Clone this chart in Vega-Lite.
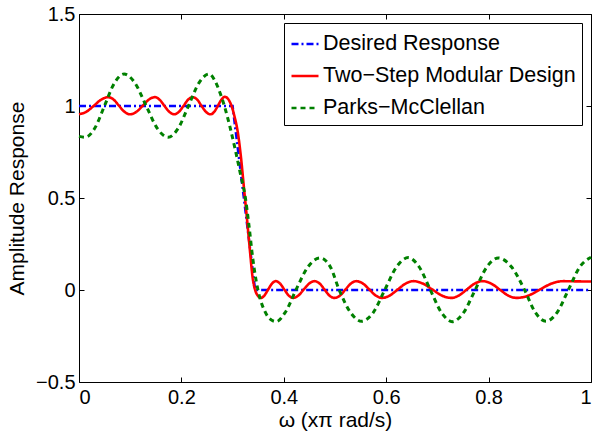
{
  "$schema": "https://vega.github.io/schema/vega-lite/v6.json",
  "width": 512,
  "height": 368,
  "autosize": {"type": "none"},
  "padding": {"left": 79, "top": 14, "right": 2, "bottom": 51},
  "background": "white",
  "config": {
    "view": {"stroke": null},
    "font": "Liberation Sans",
    "axis": {
      "grid": false,
      "domainColor": "black",
      "domainWidth": 1,
      "tickColor": "black",
      "tickSize": -5,
      "tickWidth": 1,
      "labelColor": "black",
      "labelFont": "Liberation Sans",
      "labelFontSize": 20,
      "titleColor": "black",
      "titleFont": "Liberation Sans",
      "titleFontSize": 21,
      "titleFontWeight": "normal"
    }
  },
  "data": {
    "values": [
      {"s": "Desired Response", "x": 0, "y": 1},
      {"s": "Desired Response", "x": 0.3, "y": 1},
      {"s": "Desired Response", "x": 0.344, "y": 0},
      {"s": "Desired Response", "x": 1, "y": 0},

      {"s": "Two−Step Modular Design", "x": 0, "y": 0.955},
      {"s": "Two−Step Modular Design", "x": 0.014, "y": 0.968},
      {"s": "Two−Step Modular Design", "x": 0.0285, "y": 1.0},
      {"s": "Two−Step Modular Design", "x": 0.043, "y": 1.034},
      {"s": "Two−Step Modular Design", "x": 0.057, "y": 1.048},
      {"s": "Two−Step Modular Design", "x": 0.068, "y": 1.034},
      {"s": "Two−Step Modular Design", "x": 0.0785, "y": 1.0},
      {"s": "Two−Step Modular Design", "x": 0.089, "y": 0.968},
      {"s": "Two−Step Modular Design", "x": 0.1, "y": 0.955},
      {"s": "Two−Step Modular Design", "x": 0.112, "y": 0.968},
      {"s": "Two−Step Modular Design", "x": 0.124, "y": 1.0},
      {"s": "Two−Step Modular Design", "x": 0.136, "y": 1.034},
      {"s": "Two−Step Modular Design", "x": 0.148, "y": 1.048},
      {"s": "Two−Step Modular Design", "x": 0.1575, "y": 1.034},
      {"s": "Two−Step Modular Design", "x": 0.167, "y": 1.0},
      {"s": "Two−Step Modular Design", "x": 0.1765, "y": 0.968},
      {"s": "Two−Step Modular Design", "x": 0.186, "y": 0.955},
      {"s": "Two−Step Modular Design", "x": 0.195, "y": 0.968},
      {"s": "Two−Step Modular Design", "x": 0.204, "y": 1.0},
      {"s": "Two−Step Modular Design", "x": 0.213, "y": 1.034},
      {"s": "Two−Step Modular Design", "x": 0.222, "y": 1.048},
      {"s": "Two−Step Modular Design", "x": 0.231, "y": 1.034},
      {"s": "Two−Step Modular Design", "x": 0.2395, "y": 1.0},
      {"s": "Two−Step Modular Design", "x": 0.248, "y": 0.968},
      {"s": "Two−Step Modular Design", "x": 0.257, "y": 0.955},
      {"s": "Two−Step Modular Design", "x": 0.264, "y": 0.968},
      {"s": "Two−Step Modular Design", "x": 0.271, "y": 1.0},
      {"s": "Two−Step Modular Design", "x": 0.278, "y": 1.034},
      {"s": "Two−Step Modular Design", "x": 0.285, "y": 1.05},
      {"s": "Two−Step Modular Design", "x": 0.292, "y": 1.035},
      {"s": "Two−Step Modular Design", "x": 0.298, "y": 1.0},
      {"s": "Two−Step Modular Design", "x": 0.304, "y": 0.94},
      {"s": "Two−Step Modular Design", "x": 0.31, "y": 0.86},
      {"s": "Two−Step Modular Design", "x": 0.316, "y": 0.73},
      {"s": "Two−Step Modular Design", "x": 0.322, "y": 0.56},
      {"s": "Two−Step Modular Design", "x": 0.328, "y": 0.39},
      {"s": "Two−Step Modular Design", "x": 0.334, "y": 0.21},
      {"s": "Two−Step Modular Design", "x": 0.339, "y": 0.07},
      {"s": "Two−Step Modular Design", "x": 0.344, "y": 0.0},
      {"s": "Two−Step Modular Design", "x": 0.349, "y": -0.03},
      {"s": "Two−Step Modular Design", "x": 0.355, "y": -0.043},
      {"s": "Two−Step Modular Design", "x": 0.362, "y": -0.03},
      {"s": "Two−Step Modular Design", "x": 0.3695, "y": 0.003},
      {"s": "Two−Step Modular Design", "x": 0.377, "y": 0.035},
      {"s": "Two−Step Modular Design", "x": 0.384, "y": 0.048},
      {"s": "Two−Step Modular Design", "x": 0.3925, "y": 0.035},
      {"s": "Two−Step Modular Design", "x": 0.401, "y": 0.003},
      {"s": "Two−Step Modular Design", "x": 0.4095, "y": -0.03},
      {"s": "Two−Step Modular Design", "x": 0.418, "y": -0.043},
      {"s": "Two−Step Modular Design", "x": 0.4285, "y": -0.03},
      {"s": "Two−Step Modular Design", "x": 0.439, "y": 0.003},
      {"s": "Two−Step Modular Design", "x": 0.4495, "y": 0.035},
      {"s": "Two−Step Modular Design", "x": 0.46, "y": 0.048},
      {"s": "Two−Step Modular Design", "x": 0.47, "y": 0.035},
      {"s": "Two−Step Modular Design", "x": 0.4795, "y": 0.003},
      {"s": "Two−Step Modular Design", "x": 0.489, "y": -0.03},
      {"s": "Two−Step Modular Design", "x": 0.499, "y": -0.043},
      {"s": "Two−Step Modular Design", "x": 0.51, "y": -0.03},
      {"s": "Two−Step Modular Design", "x": 0.5205, "y": 0.003},
      {"s": "Two−Step Modular Design", "x": 0.531, "y": 0.035},
      {"s": "Two−Step Modular Design", "x": 0.542, "y": 0.048},
      {"s": "Two−Step Modular Design", "x": 0.5545, "y": 0.035},
      {"s": "Two−Step Modular Design", "x": 0.567, "y": 0.003},
      {"s": "Two−Step Modular Design", "x": 0.5795, "y": -0.03},
      {"s": "Two−Step Modular Design", "x": 0.592, "y": -0.043},
      {"s": "Two−Step Modular Design", "x": 0.607, "y": -0.03},
      {"s": "Two−Step Modular Design", "x": 0.6225, "y": 0.003},
      {"s": "Two−Step Modular Design", "x": 0.638, "y": 0.035},
      {"s": "Two−Step Modular Design", "x": 0.653, "y": 0.048},
      {"s": "Two−Step Modular Design", "x": 0.6715, "y": 0.035},
      {"s": "Two−Step Modular Design", "x": 0.69, "y": 0.003},
      {"s": "Two−Step Modular Design", "x": 0.7085, "y": -0.03},
      {"s": "Two−Step Modular Design", "x": 0.727, "y": -0.043},
      {"s": "Two−Step Modular Design", "x": 0.742, "y": -0.03},
      {"s": "Two−Step Modular Design", "x": 0.7575, "y": 0.003},
      {"s": "Two−Step Modular Design", "x": 0.773, "y": 0.035},
      {"s": "Two−Step Modular Design", "x": 0.788, "y": 0.048},
      {"s": "Two−Step Modular Design", "x": 0.805, "y": 0.035},
      {"s": "Two−Step Modular Design", "x": 0.8215, "y": 0.003},
      {"s": "Two−Step Modular Design", "x": 0.838, "y": -0.03},
      {"s": "Two−Step Modular Design", "x": 0.855, "y": -0.043},
      {"s": "Two−Step Modular Design", "x": 0.878, "y": -0.03},
      {"s": "Two−Step Modular Design", "x": 0.9005, "y": 0.003},
      {"s": "Two−Step Modular Design", "x": 0.923, "y": 0.035},
      {"s": "Two−Step Modular Design", "x": 0.946, "y": 0.048},
      {"s": "Two−Step Modular Design", "x": 0.97, "y": 0.047},
      {"s": "Two−Step Modular Design", "x": 1.0, "y": 0.046},

      {"s": "Parks−McClellan", "x": 0, "y": 0.835},
      {"s": "Parks−McClellan", "x": 0.012, "y": 0.83},
      {"s": "Parks−McClellan", "x": 0.031, "y": 0.88},
      {"s": "Parks−McClellan", "x": 0.05, "y": 1.002},
      {"s": "Parks−McClellan", "x": 0.069, "y": 1.124},
      {"s": "Parks−McClellan", "x": 0.088, "y": 1.174},
      {"s": "Parks−McClellan", "x": 0.1095, "y": 1.124},
      {"s": "Parks−McClellan", "x": 0.131, "y": 1.002},
      {"s": "Parks−McClellan", "x": 0.1525, "y": 0.88},
      {"s": "Parks−McClellan", "x": 0.174, "y": 0.83},
      {"s": "Parks−McClellan", "x": 0.194, "y": 0.88},
      {"s": "Parks−McClellan", "x": 0.214, "y": 1.002},
      {"s": "Parks−McClellan", "x": 0.234, "y": 1.124},
      {"s": "Parks−McClellan", "x": 0.254, "y": 1.174},
      {"s": "Parks−McClellan", "x": 0.265, "y": 1.14},
      {"s": "Parks−McClellan", "x": 0.275, "y": 1.075},
      {"s": "Parks−McClellan", "x": 0.285, "y": 0.99},
      {"s": "Parks−McClellan", "x": 0.295, "y": 0.885},
      {"s": "Parks−McClellan", "x": 0.305, "y": 0.765},
      {"s": "Parks−McClellan", "x": 0.315, "y": 0.635},
      {"s": "Parks−McClellan", "x": 0.325, "y": 0.5},
      {"s": "Parks−McClellan", "x": 0.332, "y": 0.35},
      {"s": "Parks−McClellan", "x": 0.339, "y": 0.18},
      {"s": "Parks−McClellan", "x": 0.346, "y": 0.05},
      {"s": "Parks−McClellan", "x": 0.353, "y": -0.04},
      {"s": "Parks−McClellan", "x": 0.362, "y": -0.11},
      {"s": "Parks−McClellan", "x": 0.372, "y": -0.155},
      {"s": "Parks−McClellan", "x": 0.385, "y": -0.172},
      {"s": "Parks−McClellan", "x": 0.403, "y": -0.121},
      {"s": "Parks−McClellan", "x": 0.424, "y": 0.002},
      {"s": "Parks−McClellan", "x": 0.447, "y": 0.125},
      {"s": "Parks−McClellan", "x": 0.471, "y": 0.174},
      {"s": "Parks−McClellan", "x": 0.491, "y": 0.125},
      {"s": "Parks−McClellan", "x": 0.508, "y": 0.002},
      {"s": "Parks−McClellan", "x": 0.53, "y": -0.121},
      {"s": "Parks−McClellan", "x": 0.552, "y": -0.17},
      {"s": "Parks−McClellan", "x": 0.575, "y": -0.121},
      {"s": "Parks−McClellan", "x": 0.5975, "y": 0.002},
      {"s": "Parks−McClellan", "x": 0.62, "y": 0.125},
      {"s": "Parks−McClellan", "x": 0.643, "y": 0.176},
      {"s": "Parks−McClellan", "x": 0.6645, "y": 0.125},
      {"s": "Parks−McClellan", "x": 0.686, "y": 0.002},
      {"s": "Parks−McClellan", "x": 0.7075, "y": -0.121},
      {"s": "Parks−McClellan", "x": 0.729, "y": -0.172},
      {"s": "Parks−McClellan", "x": 0.7515, "y": -0.121},
      {"s": "Parks−McClellan", "x": 0.774, "y": 0.002},
      {"s": "Parks−McClellan", "x": 0.7965, "y": 0.125},
      {"s": "Parks−McClellan", "x": 0.819, "y": 0.174},
      {"s": "Parks−McClellan", "x": 0.845, "y": 0.125},
      {"s": "Parks−McClellan", "x": 0.87, "y": 0.002},
      {"s": "Parks−McClellan", "x": 0.891, "y": -0.121},
      {"s": "Parks−McClellan", "x": 0.912, "y": -0.17},
      {"s": "Parks−McClellan", "x": 0.934, "y": -0.121},
      {"s": "Parks−McClellan", "x": 0.956, "y": 0.002},
      {"s": "Parks−McClellan", "x": 0.978, "y": 0.125},
      {"s": "Parks−McClellan", "x": 1.0, "y": 0.178}
    ]
  },
  "encoding": {
    "color": {
      "field": "s", "type": "nominal",
      "scale": {"domain": ["Desired Response", "Two−Step Modular Design", "Parks−McClellan"], "range": ["#0000ff", "#ff0000", "#008000"]},
      "legend": {"title": null, "orient": "none", "legendX": 205, "legendY": 9, "symbolType": "stroke", "symbolSize": 729, "symbolStrokeWidth": 2.5, "labelFont": "Liberation Sans", "labelFontSize": 21.5, "labelColor": "black", "labelOffset": 3, "rowPadding": 6, "padding": 6, "strokeColor": "black", "fillColor": "white", "labelLimit": 400}
    },
    "strokeDash": {
      "field": "s", "type": "nominal",
      "scale": {"domain": ["Desired Response", "Two−Step Modular Design", "Parks−McClellan"], "range": [[7, 3, 2, 3], [1, 0], [5, 4]]},
      "legend": {"title": null, "orient": "none", "legendX": 205, "legendY": 9, "symbolType": "stroke", "symbolSize": 729, "symbolStrokeWidth": 2.5, "labelFont": "Liberation Sans", "labelFontSize": 21.5, "labelColor": "black", "labelOffset": 3, "rowPadding": 6, "padding": 6, "strokeColor": "black", "fillColor": "white", "labelLimit": 400}
    }
  },
  "layer": [
    {
      "transform": [{"filter": "datum.s === 'Desired Response'"}],
      "mark": {"type": "line", "strokeWidth": 2.5, "interpolate": "linear"},
      "encoding": {
        "x": {"field": "x", "type": "quantitative", "scale": {"domain": [0, 1], "nice": false, "zero": false},
          "axis": {"orient": "bottom", "values": [0, 0.2, 0.4, 0.6, 0.8, 1], "format": ".1~f", "labelPadding": 10, "title": "ω (xπ rad/s)", "titlePadding": 2}},
        "y": {"field": "y", "type": "quantitative", "scale": {"domain": [-0.5, 1.5], "nice": false, "zero": false},
          "axis": {"orient": "left", "values": [-0.5, 0, 0.5, 1, 1.5], "format": ".1~f", "labelPadding": 9, "title": "Amplitude Response", "titlePadding": 8}}
      }
    },
    {
      "transform": [{"filter": "datum.s === 'Two−Step Modular Design'"}],
      "mark": {"type": "line", "strokeWidth": 2.6, "interpolate": "monotone"},
      "encoding": {
        "x": {"field": "x", "type": "quantitative", "axis": null},
        "y": {"field": "y", "type": "quantitative", "axis": null}
      }
    },
    {
      "transform": [{"filter": "datum.s === 'Parks−McClellan'"}],
      "mark": {"type": "line", "strokeWidth": 3, "interpolate": "monotone"},
      "encoding": {
        "x": {"field": "x", "type": "quantitative", "axis": null},
        "y": {"field": "y", "type": "quantitative", "axis": null}
      }
    },
    {
      "transform": [{"filter": "datum.s === 'Desired Response'"}],
      "mark": {"type": "line", "opacity": 0},
      "encoding": {
        "x": {"field": "x", "type": "quantitative",
          "axis": {"orient": "top", "values": [0, 0.2, 0.4, 0.6, 0.8, 1], "labels": false, "title": null}},
        "y": {"field": "y", "type": "quantitative",
          "axis": {"orient": "right", "values": [-0.5, 0, 0.5, 1, 1.5], "labels": false, "title": null}}
      }
    }
  ],
  "resolve": {"axis": {"x": "independent", "y": "independent"}}
}
